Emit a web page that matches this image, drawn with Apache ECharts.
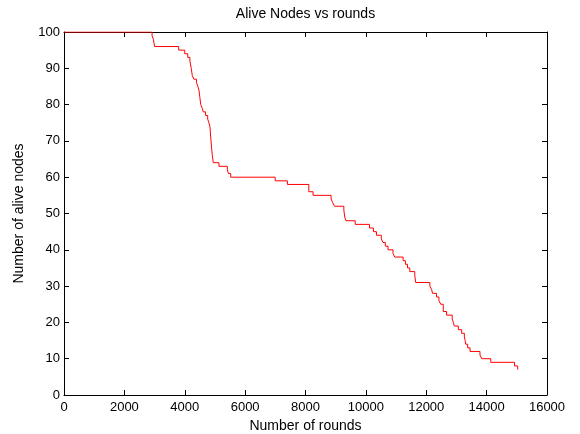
<!DOCTYPE html>
<html lang="en" style="height: 100%">
<head>
  <meta charset="utf-8">
</head>
<body style="height: 100%; margin: 0; background: #fff">
  <div id="container" style="width: 580px; height: 434px"></div>

  <script type="text/javascript" src="https://cdn.jsdelivr.net/npm/echarts@6/dist/echarts.min.js"></script>
  <script type="text/javascript">
    // rounds at which the alive-node count changes, and the new count from there on
    var rounds = [0, 2917, 2960, 3000, 3800, 4000, 4100, 4170, 4215, 4250, 4300, 4390, 4435, 4470, 4500,
      4530, 4580, 4613, 4690, 4760, 4800, 4834, 4860, 4890, 4913, 4946, 5134, 5411, 5450, 5522,
      6996, 7400, 8110, 8250, 8848, 8900, 8960, 9270, 9300, 9340, 9647, 10123, 10250, 10350, 10510,
      10567, 10644, 10733, 10899, 10955, 11233, 11310, 11380, 11454, 11620, 11650, 12120, 12180, 12210,
      12341, 12420, 12480, 12563, 12674, 12860, 12896, 12930, 13062, 13172, 13262, 13290, 13305, 13372,
      13450, 13780, 13837, 14138, 14925, 15030];
    var aliveNodes = [100, 99, 98, 96, 95, 94, 93, 92, 90, 88, 87, 86, 85, 84, 82,
      80, 79, 78, 77, 76, 75, 74, 71, 68, 66, 64, 63, 62, 61, 60,
      59, 58, 56, 55, 54, 53, 52, 51, 49, 48, 47, 46, 45, 44, 43,
      42, 41, 40, 39, 38, 37, 36, 35, 34, 33, 31, 30, 29, 28,
      27, 26, 25, 23, 22, 21, 20, 19, 18, 17, 16, 15, 14, 13,
      12, 11, 10, 9, 8, 7];

    var titleText = 'Alive Nodes vs rounds';
    var xName = 'Number of rounds';
    var yName = 'Number of alive nodes';

    var dom = document.getElementById('container');
    var myChart = echarts.init(dom, null, { renderer: 'canvas' });

    var font = 'Liberation Sans, Arial, sans-serif';
    var lineStyle = { color: '#000', width: 1 };
    var plain = function (v) { return String(v); };

    var option = {
      backgroundColor: '#fff',
      animation: false,
      grid: { left: 64, right: 33, top: 32, bottom: 39, containLabel: false, outerBoundsMode: 'none' },
      xAxis: [{
        type: 'value',
        min: 0, max: 16000, interval: 2000,
        position: 'bottom',
        name: xName,
        nameLocation: 'middle',
        nameGap: 23,
        nameTextStyle: { color: '#000', fontSize: 14, fontFamily: font },
        axisLine: { show: true, onZero: false, lineStyle: lineStyle },
        axisTick: { show: true, inside: true, length: 5, lineStyle: lineStyle },
        axisLabel: { color: '#000', fontSize: 13, fontFamily: font, margin: 6, formatter: plain },
        splitLine: { show: false }
      }, {
        type: 'value',
        min: 0, max: 16000, interval: 2000,
        position: 'top',
        name: titleText,
        nameLocation: 'middle',
        nameGap: 11,
        nameTextStyle: { color: '#000', fontSize: 14, fontFamily: font },
        axisLine: { show: true, onZero: false, lineStyle: lineStyle },
        axisTick: { show: true, inside: true, length: 5, lineStyle: lineStyle },
        axisLabel: { show: false },
        splitLine: { show: false }
      }],
      yAxis: [{
        type: 'value',
        min: 0, max: 100, interval: 10,
        position: 'left',
        name: yName,
        nameLocation: 'middle',
        nameGap: 38,
        nameTextStyle: { color: '#000', fontSize: 14, fontFamily: font },
        axisLine: { show: true, onZero: false, lineStyle: lineStyle },
        axisTick: { show: true, inside: true, length: 5, lineStyle: lineStyle },
        axisLabel: { color: '#000', fontSize: 13, fontFamily: font, margin: 4, formatter: plain },
        splitLine: { show: false }
      }, {
        type: 'value',
        min: 0, max: 100, interval: 10,
        position: 'right',
        axisLine: { show: true, onZero: false, lineStyle: lineStyle },
        axisTick: { show: true, inside: true, length: 5, lineStyle: lineStyle },
        axisLabel: { show: false },
        splitLine: { show: false }
      }],
      series: [{
        type: 'line',
        step: 'end',
        showSymbol: false,
        data: rounds.map(function (r, i) { return [r, aliveNodes[i]]; }),
        lineStyle: { color: '#ff0000', width: 1 },
        itemStyle: { color: '#ff0000' }
      }]
    };

    myChart.setOption(option);
  </script>
</body>
</html>
